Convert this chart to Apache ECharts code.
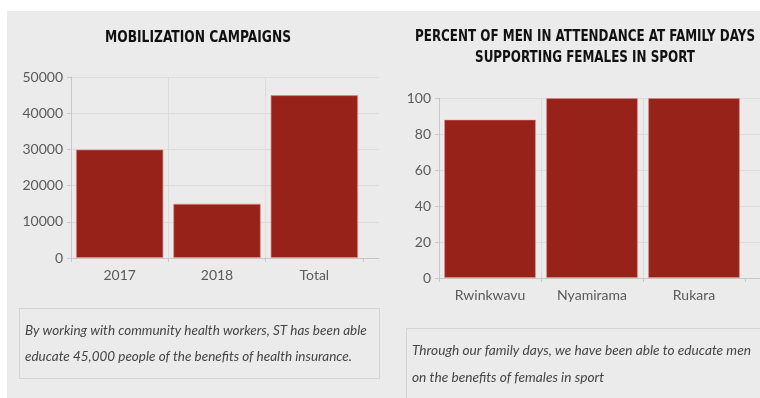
<!DOCTYPE html>
<html>
<head>
<meta charset="utf-8">
<script src="https://cdn.jsdelivr.net/npm/echarts@6/dist/echarts.min.js"></script>
<style>
  html, body { margin: 0; padding: 0; background: #fff; }
  #main { width: 760px; height: 398px; }
</style>
</head>
<body>
<div id="main"></div>
<script>
// left chart data
const campaignYears = ['2017', '2018', 'Total'];
const campaignCounts = [30000, 15000, 45000];
const campaignTicks = [0, 10000, 20000, 30000, 40000, 50000];

// right chart data
const sites = ['Rwinkwavu', 'Nyamirama', 'Rukara'];
const menPercent = [88, 100, 100];
const percentTicks = [0, 20, 40, 60, 80, 100];

const barColor = '#97221a';
const gridColor = '#dcdcdc';
const axisColor = '#c8c8c8';
const labelFont = 'Lato, "Open Sans", sans-serif';
const titleFont = '"DejaVu Sans Condensed", "DejaVu Sans", sans-serif';

const chart = echarts.init(document.getElementById('main'));

function catAxis(gridIndex, data) {
  return {
    type: 'category',
    gridIndex: gridIndex,
    data: data,
    axisLine: {show: true, lineStyle: {color: axisColor}},
    axisTick: {show: true, length: 4, lineStyle: {color: axisColor}},
    axisLabel: {color: '#5a5a5a', fontSize: 14, fontFamily: labelFont, margin: 10},
    splitLine: {show: true, showMaxLine: false, lineStyle: {color: gridColor}},
  };
}

function valAxis(gridIndex, ticks) {
  return {
    type: 'value',
    gridIndex: gridIndex,
    min: ticks[0],
    max: ticks[ticks.length - 1],
    interval: ticks[1] - ticks[0],
    axisLine: {show: true, lineStyle: {color: axisColor}},
    axisTick: {show: true, length: 4, lineStyle: {color: axisColor}},
    axisLabel: {
      color: '#5a5a5a', fontSize: 14, fontFamily: labelFont, margin: 8,
      formatter: (v) => String(v),
    },
    splitLine: {show: false},
  };
}

// helper axes that only draw the long horizontal grid lines
function lineXAxis(gridIndex) {
  return {
    type: 'value', gridIndex: gridIndex, min: 0, max: 1,
    axisLine: {show: true, lineStyle: {color: axisColor}},
    axisTick: {show: false}, axisLabel: {show: false}, splitLine: {show: false},
  };
}
function lineYAxis(gridIndex, ticks) {
  return {
    type: 'value', gridIndex: gridIndex,
    min: ticks[0], max: ticks[ticks.length - 1], interval: ticks[1] - ticks[0],
    axisLine: {show: false}, axisTick: {show: false}, axisLabel: {show: false},
    splitLine: {show: true, lineStyle: {color: gridColor}},
  };
}

const option = {
  backgroundColor: '#ebebeb',
  animation: false,
  grid: [
    {left: 71, top: 77, width: 292, height: 181},
    {left: 71, top: 77, width: 308, height: 181},
    {left: 439, top: 98, width: 306, height: 180},
    {left: 439, top: 98, width: 321, height: 180},
  ],
  xAxis: [
    catAxis(0, campaignYears),
    lineXAxis(1),
    catAxis(2, sites),
    lineXAxis(3),
  ],
  yAxis: [
    valAxis(0, campaignTicks),
    lineYAxis(1, campaignTicks),
    valAxis(2, percentTicks),
    lineYAxis(3, percentTicks),
  ],
  series: [
    {
      type: 'bar',
      xAxisIndex: 0,
      yAxisIndex: 0,
      data: campaignCounts,
      barCategoryGap: '10%',
      z: 5,
      itemStyle: {color: barColor, borderColor: 'rgba(225,140,130,0.7)', borderWidth: 1},
    },
    {
      type: 'bar',
      xAxisIndex: 2,
      yAxisIndex: 2,
      data: menPercent,
      barCategoryGap: '10%',
      z: 5,
      itemStyle: {color: barColor, borderColor: 'rgba(225,140,130,0.5)', borderWidth: 1},
    },
  ],
  graphic: [
    {type: 'rect', shape: {x: 0, y: 0, width: 760, height: 11}, style: {fill: '#fff'}},
    {type: 'rect', shape: {x: 0, y: 0, width: 7, height: 398}, style: {fill: '#fff'}},
    {
      type: 'text', x: 198, y: 38, scaleX: 0.91,
      style: {
        text: 'MOBILIZATION CAMPAIGNS', fill: '#111', font: 'bold 15px ' + titleFont,
        textAlign: 'center', textVerticalAlign: 'middle',
      },
    },
    {
      type: 'text', x: 585, y: 48, scaleX: 0.885,
      style: {
        text: 'PERCENT OF MEN IN ATTENDANCE AT FAMILY DAYS\nSUPPORTING FEMALES IN SPORT',
        fill: '#111', font: 'bold 15px ' + titleFont, lineHeight: 21,
        textAlign: 'center', textVerticalAlign: 'middle',
      },
    },
    {
      type: 'rect', shape: {x: 19.5, y: 308.5, width: 360, height: 70},
      style: {fill: 'none', stroke: '#d4d4d4', lineWidth: 1},
    },
    {
      type: 'text', x: 25, y: 344,
      style: {
        text: 'By working with community health workers, ST has been able\neducate 45,000 people of the benefits of health insurance.',
        fill: '#444', font: 'italic 13.5px ' + labelFont, lineHeight: 26,
        textVerticalAlign: 'middle',
      },
    },
    {
      type: 'rect', shape: {x: 406.5, y: 328.5, width: 380, height: 90},
      style: {fill: 'none', stroke: '#d4d4d4', lineWidth: 1},
    },
    {
      type: 'text', x: 412, y: 364,
      style: {
        text: 'Through our family days, we have been able to educate men\non the benefits of females in sport',
        fill: '#444', font: 'italic 13.7px ' + labelFont, lineHeight: 27,
        textVerticalAlign: 'middle',
      },
    },
  ],
};

chart.setOption(option);
</script>
</body>
</html>
